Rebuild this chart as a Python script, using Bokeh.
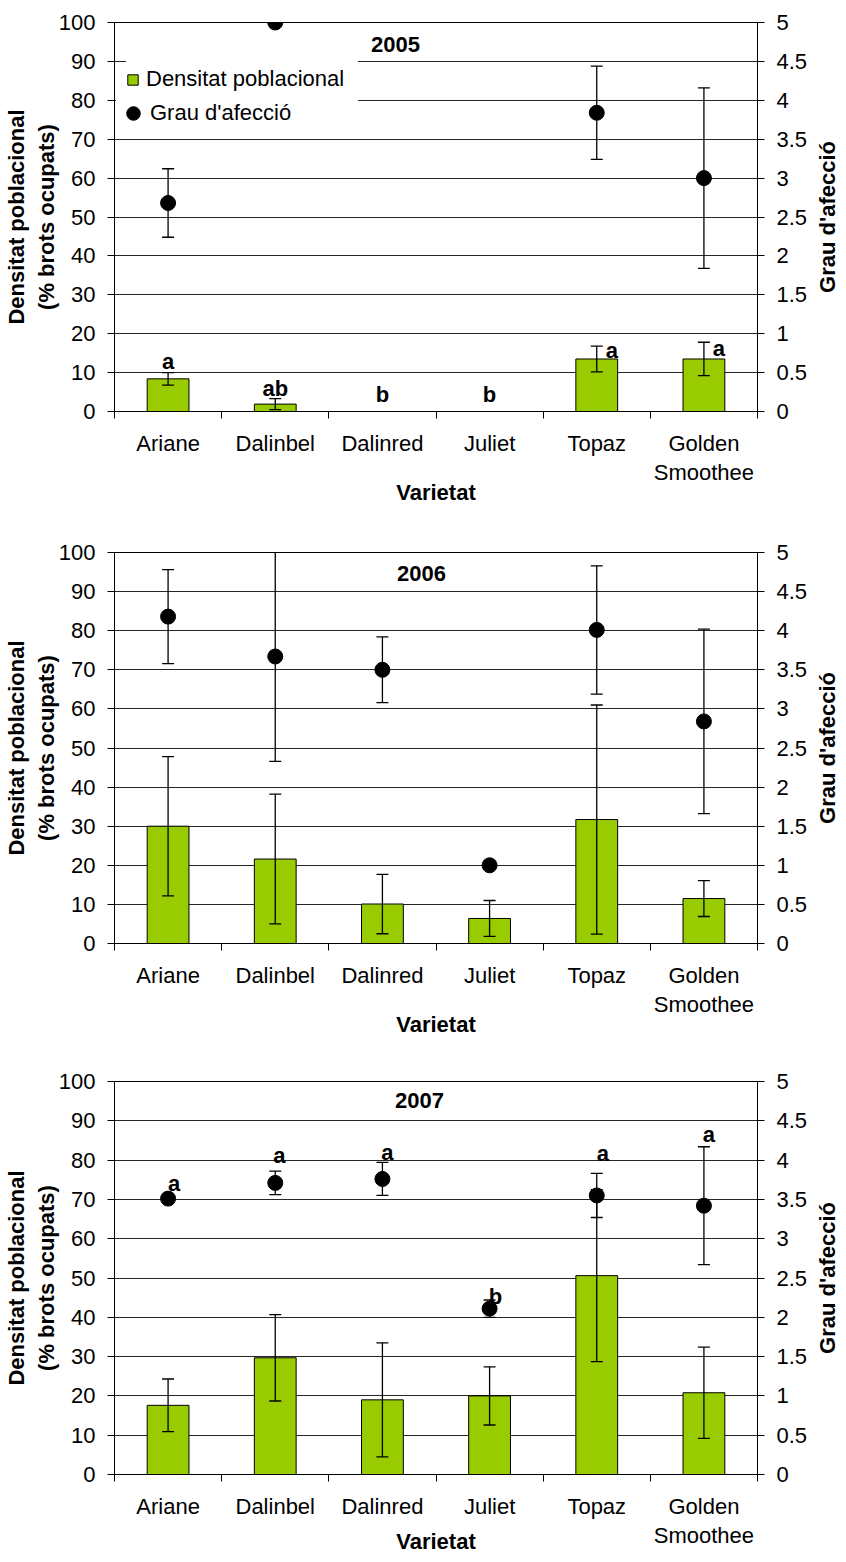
import math
from bokeh.plotting import figure
from bokeh.models import (Range1d, LinearAxis, FixedTicker, PrintfTickFormatter, Whisker, TeeHead,
                          ColumnDataSource, Legend, LegendItem, Label)
from bokeh.layouts import column, row
from bokeh.core.properties import value
from bokeh.embed import file_html
from bokeh.resources import INLINE

# ---------------- data ----------------
categories = ["Ariane", "Dalinbel", "Dalinred", "Juliet", "Topaz", "Golden Smoothee"]
category_tick_labels = ["Ariane", "Dalinbel", "Dalinred", "Juliet", "Topaz", "Golden\nSmoothee"]
density_ticks = [0, 10, 20, 30, 40, 50, 60, 70, 80, 90, 100]
grau_ticks = [0, 0.5, 1, 1.5, 2, 2.5, 3, 3.5, 4, 4.5, 5]
years = ["2005", "2006", "2007"]

# Densitat poblacional (% brots ocupats), mean and error
density_2005 = [8.4, 1.9, 0, 0, 13.5, 13.5]
density_err_2005 = [1.6, 1.4, None, None, 3.3, 4.3]
density_2006 = [30.0, 21.6, 10.1, 6.4, 31.7, 11.5]
density_err_2006 = [17.8, 16.6, 7.6, 4.6, 29.3, 4.6]
density_2007 = [17.6, 29.7, 19.0, 20.0, 50.6, 20.8]
density_err_2007 = [6.7, 11.0, 14.5, 7.4, 21.9, 11.6]

# Grau d'afecció, mean and error
grau_2005 = [2.68, 5.0, None, None, 3.84, 3.0]
grau_err_2005 = [0.44, None, None, None, 0.6, 1.16]
grau_2006 = [4.18, 3.67, 3.50, 1.0, 4.01, 2.84]
grau_err_2006 = [0.6, 1.34, 0.42, None, 0.82, 1.18]
grau_2007 = [3.51, 3.71, 3.76, 2.11, 3.55, 3.42]
grau_err_2007 = [None, 0.15, 0.21, 0.11, 0.28, 0.75]

# significance letters
letters_2005 = ["a", "ab", "b", "b", "a", "a"]      # on density bars
letters_2007 = ["a", "a", "a", "b", "a", "a"]       # on grau points

# ---------------- layout / style ----------------
FONT_NAME = "Liberation Sans"
FONT = value(FONT_NAME)
GREEN = "#99CC00"
FS = "22px"
FRAME_W = 643
BORDER_L = 114
BORDER_R = 58
SIDE_W = 24

# letter pixel offsets (screen px) relative to the top of each error bar
letter_dx_2005 = [0, 0, 0, 0, 15, 15]
letter_dy_2005 = [-11, -10, -17, -17, 4, 6]
letter_dx_2007 = [6, 4, 5, 6, 6, 5]
letter_dy_2007 = [-15, -16, -10, -4, -20, -12]

panel_layout = {
    "2005": dict(top=22, frame_h=389, bottom=106, title_x=281, title_dy=22, xlabel_standoff=-8),
    "2006": dict(top=35, frame_h=391, bottom=104, title_x=307, title_dy=21, xlabel_standoff=-8),
    "2007": dict(top=34, frame_h=393, bottom=80, title_x=305, title_dy=19, xlabel_standoff=-22),
}

xpos = [i + 0.5 for i in range(len(categories))]


def err_source(vals, errs):
    xs, up, lo = [], [], []
    for x, v, e in zip(xpos, vals, errs):
        if v is None or e is None:
            continue
        xs.append(x)
        up.append(v + e)
        lo.append(v - e)
    return ColumnDataSource(dict(x=xs, upper=up, lower=lo))


def style_axis(ax):
    ax.major_label_text_font = FONT_NAME
    ax.major_label_text_font_size = FS
    ax.major_label_text_color = "black"
    ax.axis_line_color = "black"
    ax.axis_label_text_font = FONT_NAME
    ax.axis_label_text_font_size = FS
    ax.axis_label_text_font_style = "bold"
    ax.axis_label_text_color = "black"


def make_side(year):
    """Narrow strip holding the right-hand axis title, read bottom-to-top."""
    lay = panel_layout[year]
    s = figure(x_range=Range1d(0, 1), y_range=Range1d(0, 5),
               frame_width=SIDE_W, frame_height=lay["frame_h"],
               min_border_left=0, min_border_right=0,
               min_border_top=lay["top"], min_border_bottom=lay["bottom"],
               x_axis_location=None, y_axis_location=None,
               output_backend="svg", toolbar_location=None,
               background_fill_color="white", border_fill_color="white")
    s.outline_line_color = None
    s.grid.visible = False
    s.text(x=[0.5], y=[2.5], text=["Grau d'afecció"], angle=math.pi / 2,
           text_font=FONT, text_font_size=FS, text_font_style="bold",
           text_color="black", text_align="center", text_baseline="middle")
    return s


def make_panel(year, dens, dens_err, grau, grau_err, letters=None, letter_on="density",
               ldx=None, ldy=None, with_legend=False):
    lay = panel_layout[year]
    p = figure(x_range=Range1d(0, len(categories)), y_range=Range1d(0, 100),
               frame_width=FRAME_W, frame_height=lay["frame_h"],
               min_border_left=BORDER_L, min_border_right=BORDER_R,
               min_border_top=lay["top"], min_border_bottom=lay["bottom"],
               output_backend="svg", toolbar_location=None,
               background_fill_color="white", border_fill_color="white")
    p.extra_y_ranges = {"grau": Range1d(0, 5)}
    p.outline_line_color = "black"
    p.outline_line_width = 1

    # grid
    p.xgrid.visible = False
    p.ygrid.ticker = FixedTicker(ticks=density_ticks)
    p.ygrid.grid_line_color = "black"
    p.ygrid.grid_line_alpha = 0.85
    p.ygrid.grid_line_width = 1

    # x axis
    xa = p.xaxis[0]
    style_axis(xa)
    xa.ticker = FixedTicker(ticks=xpos, minor_ticks=list(range(len(categories) + 1)))
    xa.major_label_overrides = {x: lab for x, lab in zip(xpos, category_tick_labels)}
    xa.major_tick_out = 0
    xa.major_tick_in = 0
    xa.minor_tick_out = 7
    xa.minor_tick_in = 0
    xa.minor_tick_line_color = "black"
    xa.major_label_text_line_height = 1.17
    xa.major_label_standoff = 12
    xa.axis_label = "Varietat"
    xa.axis_label_standoff = lay["xlabel_standoff"]

    # left axis
    ya = p.yaxis[0]
    style_axis(ya)
    ya.ticker = FixedTicker(ticks=density_ticks)
    ya.major_tick_out = 7
    ya.major_tick_in = 0
    ya.minor_tick_line_color = None
    ya.major_label_standoff = 12
    ya.axis_label = "Densitat poblacional\n(% brots ocupats)"
    ya.axis_label_text_line_height = 1.2
    ya.axis_label_standoff = -3

    # right axis (title drawn in the side strip)
    ra = LinearAxis(y_range_name="grau", ticker=FixedTicker(ticks=grau_ticks),
                    formatter=PrintfTickFormatter(format="%g"))
    style_axis(ra)
    ra.major_tick_out = 7
    ra.major_tick_in = 0
    ra.minor_tick_line_color = None
    ra.major_label_standoff = 12
    p.add_layout(ra, "right")

    # bars
    bars = p.vbar(x=xpos, top=dens, width=0.39, bottom=0, fill_color=GREEN,
                  line_color="black", line_width=1)
    bw = Whisker(source=err_source(dens, dens_err), base="x", upper="upper", lower="lower",
                 dimension="height", line_color="black", line_width=1.3, level="annotation",
                 upper_head=TeeHead(size=12, line_width=1.3, line_color="black"),
                 lower_head=TeeHead(size=12, line_width=1.3, line_color="black"))
    p.add_layout(bw)

    # points
    gx = [x for x, g in zip(xpos, grau) if g is not None]
    gy = [g for g in grau if g is not None]
    dots = p.scatter(x=gx, y=gy, size=15, marker="circle", fill_color="black",
                     line_color="black", y_range_name="grau")
    gw = Whisker(source=err_source(grau, grau_err), base="x", upper="upper", lower="lower",
                 dimension="height", line_color="black", line_width=1.3, level="annotation",
                 y_range_name="grau",
                 upper_head=TeeHead(size=12, line_width=1.3, line_color="black"),
                 lower_head=TeeHead(size=12, line_width=1.3, line_color="black"))
    p.add_layout(gw)

    # letters
    if letters is not None:
        if letter_on == "density":
            vals, errs = dens, dens_err
        else:
            vals, errs = grau, grau_err
        ys = [(v if v is not None else 0) + (e if e is not None else 0) for v, e in zip(vals, errs)]
        src = ColumnDataSource(dict(x=xpos, y=ys, t=letters, dx=ldx, dy=ldy))
        kw = {"y_range_name": "grau"} if letter_on == "grau" else {}
        p.text(x="x", y="y", text="t", x_offset="dx", y_offset="dy", source=src,
               text_font=FONT, text_font_size=FS, text_font_style="bold",
               text_color="black", text_align="center", text_baseline="alphabetic", **kw)

    # year title
    p.add_layout(Label(x=lay["title_x"], y=lay["frame_h"] - lay["title_dy"],
                       x_units="screen", y_units="screen", text=year,
                       text_font=FONT_NAME, text_font_size=FS, text_font_style="bold",
                       text_color="black", text_align="center", text_baseline="middle"))

    if with_legend:
        leg2 = Legend(items=[LegendItem(label="Grau d'afecció", renderers=[dots])],
                      location=(2, 280), padding=0, margin=0, spacing=0,
                      glyph_width=34, glyph_height=36, label_standoff=0, label_width=208,
                      label_text_font=FONT_NAME, label_text_font_size=FS,
                      label_text_color="black",
                      border_line_color=None, background_fill_color="white",
                      background_fill_alpha=1.0)
        leg1 = Legend(items=[LegendItem(label="Densitat poblacional", renderers=[bars])],
                      location=(12, 312), padding=0, margin=0, spacing=0,
                      glyph_width=13, glyph_height=13, label_standoff=7,
                      label_height=40, label_width=212,
                      label_text_font=FONT_NAME, label_text_font_size=FS,
                      label_text_color="black",
                      border_line_color=None, background_fill_color="white",
                      background_fill_alpha=1.0)
        p.add_layout(leg2)
        p.add_layout(leg1)
    return row(p, make_side(year), spacing=0)


p1 = make_panel("2005", density_2005, density_err_2005, grau_2005, grau_err_2005,
                letters_2005, "density", letter_dx_2005, letter_dy_2005, with_legend=True)
p2 = make_panel("2006", density_2006, density_err_2006, grau_2006, grau_err_2006)
p3 = make_panel("2007", density_2007, density_err_2007, grau_2007, grau_err_2007,
                letters_2007, "grau", letter_dx_2007, letter_dy_2007)

layout = column(p1, p2, p3, spacing=0)
open("out.html", "w").write(file_html(layout, INLINE))
